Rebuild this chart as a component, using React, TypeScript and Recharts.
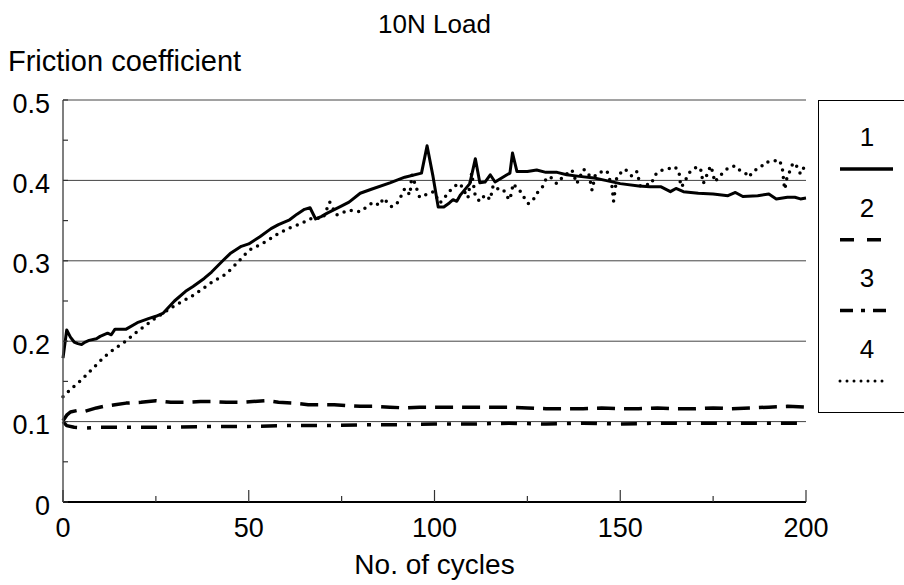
import { CartesianGrid, Label, Legend, Line, LineChart, XAxis, YAxis } from "recharts";

const FONT = '"Liberation Sans", Arial, sans-serif';

// [cycle, friction coefficient]
const series1: [number, number][] = [
  [0, 0.179], [1, 0.214], [2, 0.205], [3, 0.199], [4, 0.197], [5, 0.196], [6, 0.199], [7, 0.201],
  [9, 0.203], [10, 0.206], [12, 0.21], [13, 0.208], [14, 0.215], [17, 0.215], [20, 0.223], [23, 0.228],
  [25, 0.231], [27, 0.235], [30, 0.25], [33, 0.262], [35, 0.268], [38, 0.278], [40, 0.286], [43, 0.3],
  [45, 0.309], [48, 0.318], [50, 0.321], [53, 0.33], [56, 0.34], [58, 0.345], [61, 0.351], [63, 0.358],
  [65, 0.364], [66.5, 0.366], [68, 0.352], [69.5, 0.355], [71, 0.359], [74.5, 0.367], [77, 0.373],
  [80, 0.384], [83, 0.389], [88, 0.397], [92, 0.404], [96.5, 0.409], [98, 0.443], [99.6, 0.405],
  [101, 0.367], [102.5, 0.367], [104, 0.372], [105, 0.376], [106, 0.374], [107, 0.382], [109.5, 0.396],
  [111, 0.427], [112.2, 0.397], [113.6, 0.398], [115, 0.407], [116.3, 0.398], [119.5, 0.407], [120.3, 0.409],
  [121, 0.434], [122.2, 0.411], [125, 0.411], [127.5, 0.413], [130, 0.41], [133, 0.41], [135.6, 0.407],
  [139, 0.405], [143, 0.403], [146, 0.4], [150, 0.396], [155, 0.393], [158, 0.392], [161, 0.392],
  [163.5, 0.386], [165, 0.39], [167, 0.386], [171, 0.384], [175, 0.383], [179, 0.381], [181, 0.385],
  [183, 0.38], [187, 0.381], [190, 0.383], [192, 0.377], [195, 0.379], [197, 0.379], [198.5, 0.377],
  [200, 0.378],
];

const series2: [number, number][] = [
  [0, 0.101], [1, 0.108], [2, 0.112], [4, 0.114], [6, 0.113], [9, 0.117], [11, 0.119], [14, 0.121],
  [17, 0.123], [21, 0.124], [25, 0.126], [29, 0.124], [33, 0.124], [37, 0.125], [40, 0.125], [44, 0.124],
  [48, 0.124], [51, 0.125], [55, 0.126], [58, 0.124], [62, 0.123], [66, 0.121], [70, 0.121], [73, 0.121],
  [76, 0.12], [80, 0.119], [84, 0.119], [88, 0.118], [92, 0.117], [96, 0.118], [100, 0.118], [105, 0.118],
  [110, 0.118], [115, 0.118], [120, 0.118], [125, 0.117], [130, 0.116], [135, 0.116], [140, 0.116],
  [145, 0.117], [150, 0.116], [155, 0.116], [160, 0.117], [165, 0.116], [170, 0.116], [175, 0.117],
  [180, 0.116], [185, 0.117], [190, 0.118], [195, 0.119], [200, 0.118],
];

const series3: [number, number][] = [
  [0, 0.1], [1, 0.095], [3, 0.093], [6, 0.092], [10, 0.093], [20, 0.093], [30, 0.093], [40, 0.094],
  [50, 0.094], [60, 0.095], [70, 0.095], [80, 0.096], [90, 0.096], [100, 0.097], [110, 0.097],
  [120, 0.098], [130, 0.097], [140, 0.098], [150, 0.097], [160, 0.098], [170, 0.098], [180, 0.098],
  [190, 0.098], [200, 0.098],
];

const series4: [number, number][] = [
  [0, 0.131], [2, 0.14], [5, 0.152], [8, 0.166], [11, 0.18], [14, 0.191], [16.6, 0.199], [20, 0.212],
  [25, 0.229], [30, 0.244], [35, 0.257], [40, 0.273], [44, 0.284], [47, 0.298], [50, 0.313], [53, 0.32],
  [55, 0.325], [58, 0.334], [61, 0.341], [64, 0.346], [67, 0.353], [70, 0.353], [71.8, 0.373],
  [73.6, 0.357], [77, 0.363], [80, 0.361], [81.7, 0.367], [83.5, 0.373], [85.3, 0.369], [86.2, 0.378],
  [88.5, 0.367], [90.2, 0.373], [92, 0.39], [93.4, 0.382], [93.9, 0.407], [96, 0.379], [99.7, 0.386],
  [101.5, 0.372], [103.3, 0.382], [105, 0.392], [106.9, 0.396], [109, 0.378], [110, 0.409], [111, 0.38],
  [112.2, 0.374], [113.6, 0.382], [115, 0.376], [115.8, 0.394], [117.2, 0.389], [118.5, 0.389],
  [119.5, 0.38], [120.3, 0.376], [121.2, 0.396], [122.6, 0.388], [123.5, 0.385], [124.4, 0.376],
  [125.3, 0.371], [126.6, 0.376], [127.5, 0.384], [128.9, 0.39], [129.8, 0.4], [131.1, 0.405],
  [132.9, 0.396], [134.7, 0.405], [137, 0.413], [138.3, 0.396], [140.1, 0.414], [141.5, 0.409],
  [142.4, 0.388], [143.3, 0.407], [145.1, 0.411], [146.4, 0.412], [147.8, 0.392], [148.2, 0.374],
  [149.1, 0.405], [151.3, 0.414], [153.2, 0.405], [154.5, 0.411], [155.4, 0.393], [158.5, 0.396],
  [159, 0.405], [160.6, 0.412], [162.6, 0.414], [164.7, 0.417], [165.8, 0.411], [166.3, 0.392],
  [167.2, 0.396], [168, 0.405], [169.1, 0.413], [170.9, 0.417], [171.6, 0.415], [172, 0.405],
  [172.3, 0.396], [172.9, 0.401], [173.6, 0.411], [174.4, 0.418], [175, 0.408], [175.4, 0.398],
  [176.2, 0.402], [177.7, 0.41], [179.2, 0.416], [181, 0.418], [182.3, 0.412], [183.7, 0.409],
  [184.6, 0.404], [185.9, 0.412], [187.7, 0.416], [189.1, 0.423], [190.9, 0.423], [192.6, 0.426],
  [193.5, 0.419], [193.8, 0.409], [194, 0.398], [194.3, 0.389], [194.9, 0.404], [195.8, 0.413],
  [196.5, 0.422], [197.6, 0.417], [198.5, 0.408], [198.9, 0.412], [199.9, 0.419],
];

const seriesNames = ["1", "2", "3", "4"];
const xTicks = [0, 25, 50, 75, 100, 125, 150, 175, 200];
const xLabelTicks = [0, 50, 100, 150, 200];
const yTicks = [0, 0.05, 0.1, 0.15, 0.2, 0.25, 0.3, 0.35, 0.4, 0.45, 0.5];
const yLabelTicks = [0, 0.1, 0.2, 0.3, 0.4, 0.5];

const toPoints = (s: [number, number][]) => s.map(([c, v]) => ({ c, v }));

const lineStyles = [
  { strokeWidth: 3, dash: undefined, legendDash: undefined, cap: "butt" },
  { strokeWidth: 3.5, dash: "18 9", legendDash: "14 13", cap: "butt" },
  { strokeWidth: 3.5, dash: "16 10 4 10", legendDash: "13 8 4 8", cap: "butt" },
  { strokeWidth: 3.5, dash: "0 7.5", legendDash: "0 7", cap: "round" },
];

const X_MARGIN = 16;
const Y_MARGIN = 13;

function XTick({ x, y, payload }: any) {
  const v = payload.value;
  const labelled = xLabelTicks.includes(v);
  const axisY = y - X_MARGIN;
  return (
    <g>
      <line x1={x} x2={x} y1={axisY} y2={axisY - (labelled ? 12 : 6)} stroke="#333" strokeWidth={1.2} />
      {labelled && (
        <text x={x} y={y + 19.2} textAnchor="middle" fontSize={27} fontFamily={FONT} fill="#000">
          {v}
        </text>
      )}
    </g>
  );
}

function YTick({ x, y, payload }: any) {
  const v = payload.value;
  const labelled = yLabelTicks.some((t) => Math.abs(t - v) < 1e-9);
  const axisX = x + Y_MARGIN;
  return (
    <g>
      <line x1={axisX} x2={axisX + 5} y1={y} y2={y} stroke="#333" strokeWidth={1.2} />
      {labelled && (
        <text x={x} y={y + 12.6} textAnchor="end" fontSize={27} fontFamily={FONT} fill="#000">
          {String(Math.round(v * 10) / 10)}
        </text>
      )}
    </g>
  );
}

function LegendBox() {
  return (
    <svg width={100} height={314} style={{ display: "block" }}>
      <rect x={0.5} y={0.5} width={110} height={312} fill="#fff" stroke="#000" />
      {seriesNames.map((name, i) => {
        const st = lineStyles[i];
        const y = 69 + i * 70.7;
        return (
          <g key={name}>
            <text x={49} y={y - 23} textAnchor="middle" fontSize={26} fontFamily={FONT} fill="#000">
              {name}
            </text>
            <line
              x1={22}
              x2={i === 1 ? 65 : i === 3 ? 70 : 75}
              y1={y}
              y2={y}
              stroke="#000"
              strokeWidth={i === 3 ? 3 : 3.5}
              strokeDasharray={st.legendDash}
              strokeLinecap={st.cap as any}
            />
          </g>
        );
      })}
    </svg>
  );
}

const emptyTick = () => "";

export default function App() {
  const data = [series1, series2, series3, series4].map(toPoints);
  return (
    <div style={{ position: "absolute", left: 0, top: 0, width: 904, height: 585, background: "#fff" }}>
      <div
        style={{
          position: "absolute",
          left: 63,
          width: 743,
          top: 10,
          textAlign: "center",
          fontFamily: FONT,
          fontSize: 26,
          lineHeight: "28px",
          color: "#000",
        }}
      >
        10N Load
      </div>
      <LineChart width={904} height={585} margin={{ top: 100, right: 98, bottom: 0, left: 0 }}>
        <CartesianGrid horizontal vertical={false} horizontalValues={yLabelTicks} stroke="#444" strokeWidth={1} />
        <XAxis
          dataKey="c"
          type="number"
          domain={[0, 200]}
          ticks={xTicks}
          interval={0}
          height={83}
          tickLine={false}
          tickSize={0}
          tickMargin={X_MARGIN}
          axisLine={{ stroke: "#000", strokeWidth: 2 }}
          tick={<XTick />}
        >
          <Label
            content={({ viewBox }: any) => (
              <text
                x={viewBox.x + viewBox.width / 2}
                y={viewBox.y + 72}
                textAnchor="middle"
                fontSize={28}
                fontFamily={FONT}
                fill="#000"
              >
                No. of cycles
              </text>
            )}
          />
        </XAxis>
        <YAxis
          type="number"
          domain={[0, 0.5]}
          ticks={yTicks}
          interval={0}
          width={63}
          tickLine={false}
          tickSize={0}
          tickMargin={Y_MARGIN}
          axisLine={{ stroke: "#555", strokeWidth: 1.5 }}
          tick={<YTick />}
        >
          <Label
            content={({ viewBox }: any) => (
              <text x={8} y={viewBox.y - 29} fontSize={29} fontFamily={FONT} fill="#000">
                Friction coefficient
              </text>
            )}
          />
        </YAxis>
        <YAxis
          yAxisId="right"
          orientation="right"
          type="number"
          domain={[0, 0.5]}
          ticks={yLabelTicks}
          width={0}
          tickLine={false}
          axisLine={{ stroke: "#000", strokeWidth: 1.5 }}
          tickFormatter={emptyTick}
        />
        {data.map((pts, i) => (
          <Line
            key={seriesNames[i]}
            name={seriesNames[i]}
            data={pts}
            dataKey="v"
            type="linear"
            stroke="#000"
            strokeWidth={lineStyles[i].strokeWidth}
            strokeDasharray={lineStyles[i].dash}
            strokeLinecap={lineStyles[i].cap as any}
            strokeLinejoin="round"
            dot={false}
            activeDot={false}
            isAnimationActive={false}
          />
        ))}
        <Legend
          layout="vertical"
          align="center"
          verticalAlign="middle"
          wrapperStyle={{ left: 818, top: 100, width: 100, height: 314 }}
          content={() => <LegendBox />}
        />
      </LineChart>
    </div>
  );
}
